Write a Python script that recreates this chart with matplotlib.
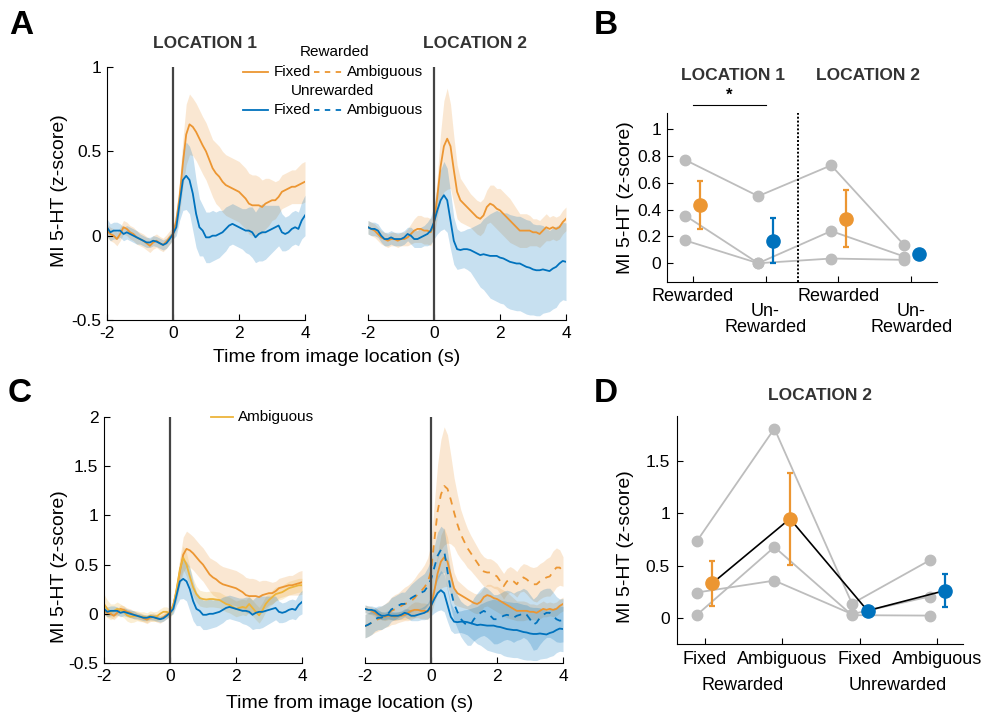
import numpy as np
import matplotlib
matplotlib.use('Agg')
import matplotlib.pyplot as plt
from matplotlib.lines import Line2D

plt.rcParams['font.family'] = ['Liberation Sans', 'DejaVu Sans']

# ---------------- DATA ----------------
t = np.linspace(-2.0, 4.0, 61)
time_ticks = [-2, 0, 2, 4]
a_yticks = [-0.5, 0, 0.5, 1]
a_ylabels = ['-0.5', '0', '0.5', '1']
c_yticks = [-0.5, 0, 0.5, 1, 1.5, 2]
c_ylabels = ['-0.5', '0', '0.5', '1', '1.5', '2']

# Location 1, rewarded fixed
loc1_rew_fix_mean = [0.03, 0.01, 0.00, -0.02, 0.01, 0.05, 0.04, 0.02, 0.01, -0.01,
                     -0.02, -0.03, -0.045, -0.06, -0.04, -0.03, -0.045, -0.055, -0.035, -0.01,
                     0.01, 0.09, 0.23, 0.43, 0.60, 0.66, 0.645, 0.615, 0.575, 0.535,
                     0.50, 0.45, 0.40, 0.37, 0.35, 0.32, 0.30, 0.29, 0.28, 0.27,
                     0.26, 0.24, 0.22, 0.19, 0.18, 0.18, 0.18, 0.17, 0.19, 0.20,
                     0.21, 0.21, 0.23, 0.26, 0.27, 0.28, 0.29, 0.29, 0.30, 0.31,
                     0.32]
loc1_rew_fix_sem = [0.04, 0.04, 0.04, 0.04, 0.04, 0.04, 0.04, 0.04, 0.04, 0.04,
                    0.04, 0.04, 0.04, 0.04, 0.04, 0.04, 0.04, 0.04, 0.04, 0.04,
                    0.04, 0.06, 0.10, 0.14, 0.18, 0.18, 0.17, 0.17, 0.17, 0.17,
                    0.17, 0.17, 0.17, 0.18, 0.18, 0.18, 0.18, 0.18, 0.18, 0.18,
                    0.18, 0.18, 0.18, 0.18, 0.18, 0.18, 0.17, 0.16, 0.15, 0.14,
                    0.12, 0.11, 0.10, 0.10, 0.10, 0.10, 0.10, 0.10, 0.11, 0.12,
                    0.12]
# Location 1, unrewarded fixed
loc1_unr_fix_mean = [0.05, 0.02, 0.03, 0.03, 0.03, 0.01, 0.02, 0.01, 0.00, -0.01,
                     -0.02, -0.03, -0.04, -0.04, -0.03, -0.035, -0.045, -0.055, -0.045, -0.02,
                     0.01, 0.05, 0.19, 0.33, 0.355, 0.33, 0.25, 0.13, 0.05, 0.03,
                     -0.01, -0.01, 0.00, 0.00, 0.01, 0.02, 0.04, 0.06, 0.07, 0.06,
                     0.05, 0.04, 0.03, 0.03, 0.02, -0.01, 0.01, 0.02, 0.02, 0.03,
                     0.04, 0.05, 0.06, 0.02, 0.01, 0.02, 0.04, 0.05, 0.04, 0.09,
                     0.12]
loc1_unr_fix_sem = [0.05, 0.05, 0.05, 0.05, 0.04, 0.04, 0.04, 0.04, 0.04, 0.04,
                    0.03, 0.03, 0.03, 0.03, 0.03, 0.03, 0.03, 0.03, 0.03, 0.03,
                    0.03, 0.05, 0.10, 0.18, 0.20, 0.20, 0.22, 0.20, 0.17, 0.15,
                    0.15, 0.15, 0.15, 0.14, 0.14, 0.13, 0.13, 0.12, 0.12, 0.12,
                    0.12, 0.12, 0.13, 0.14, 0.15, 0.15, 0.16, 0.17, 0.16, 0.15,
                    0.14, 0.13, 0.12, 0.11, 0.10, 0.10, 0.10, 0.10, 0.10, 0.11,
                    0.12]
# Location 1, rewarded ambiguous
loc1_rew_amb_mean = [0.10, 0.05, 0.02, 0.03, 0.05, 0.04, 0.02, -0.015, -0.03, -0.025,
                     -0.02, -0.03, -0.03, -0.04, -0.02, -0.03, -0.025, 0.00, 0.02, 0.02,
                     0.00, 0.08, 0.25, 0.45, 0.57, 0.50, 0.38, 0.27, 0.20, 0.16,
                     0.15, 0.145, 0.15, 0.15, 0.145, 0.14, 0.12, 0.10, 0.09, 0.07,
                     0.05, 0.06, 0.07, 0.06, 0.10, 0.06, 0.02, -0.015, 0.035, 0.10,
                     0.14, 0.17, 0.20, 0.21, 0.22, 0.24, 0.26, 0.27, 0.28, 0.29,
                     0.29]
loc1_rew_amb_sem = [0.10, 0.09, 0.08, 0.07, 0.07, 0.06, 0.06, 0.06, 0.06, 0.06,
                    0.05, 0.05, 0.05, 0.05, 0.05, 0.05, 0.05, 0.05, 0.05, 0.05,
                    0.05, 0.06, 0.08, 0.10, 0.12, 0.12, 0.10, 0.09, 0.08, 0.08,
                    0.08, 0.08, 0.08, 0.08, 0.08, 0.08, 0.08, 0.08, 0.08, 0.08,
                    0.08, 0.08, 0.08, 0.08, 0.08, 0.08, 0.08, 0.08, 0.08, 0.08,
                    0.07, 0.07, 0.07, 0.07, 0.07, 0.07, 0.07, 0.07, 0.07, 0.07,
                    0.07]
# Location 2, rewarded fixed
loc2_rew_fix_mean = [0.05, 0.04, 0.03, 0.01, -0.01, -0.02, -0.03, -0.02, -0.02, -0.03,
                     -0.02, -0.02, -0.01, 0.01, 0.03, 0.04, 0.04, 0.03, 0.03, 0.02,
                     0.07, 0.23, 0.41, 0.53, 0.575, 0.53, 0.39, 0.26, 0.21, 0.19,
                     0.17, 0.15, 0.13, 0.11, 0.10, 0.12, 0.17, 0.19, 0.18, 0.16,
                     0.15, 0.13, 0.11, 0.09, 0.07, 0.05, 0.03, 0.03, 0.03, 0.03,
                     0.02, 0.02, 0.01, 0.03, 0.05, 0.04, 0.05, 0.04, 0.05, 0.08,
                     0.10]
loc2_rew_fix_sem = [0.04, 0.04, 0.04, 0.04, 0.04, 0.04, 0.04, 0.04, 0.04, 0.04,
                    0.04, 0.04, 0.05, 0.06, 0.07, 0.08, 0.08, 0.08, 0.08, 0.08,
                    0.08, 0.12, 0.20, 0.27, 0.30, 0.25, 0.20, 0.16, 0.13, 0.12,
                    0.11, 0.10, 0.10, 0.10, 0.10, 0.10, 0.10, 0.11, 0.12, 0.12,
                    0.13, 0.13, 0.13, 0.13, 0.12, 0.11, 0.10, 0.10, 0.10, 0.09,
                    0.08, 0.08, 0.08, 0.08, 0.08, 0.07, 0.07, 0.07, 0.07, 0.07,
                    0.07]
# Location 2, unrewarded fixed
loc2_unr_fix_mean = [0.05, 0.04, 0.04, 0.03, 0.00, -0.02, -0.02, -0.01, -0.02, -0.02,
                     -0.02, -0.01, 0.01, 0.00, -0.02, -0.02, -0.01, 0.00, 0.01, 0.03,
                     0.08, 0.15, 0.21, 0.24, 0.21, 0.09, -0.03, -0.08, -0.085, -0.08,
                     -0.08, -0.085, -0.095, -0.105, -0.115, -0.11, -0.115, -0.12, -0.12, -0.12,
                     -0.13, -0.135, -0.145, -0.155, -0.16, -0.165, -0.165, -0.175, -0.185, -0.19,
                     -0.20, -0.205, -0.205, -0.20, -0.205, -0.21, -0.195, -0.185, -0.165, -0.15,
                     -0.155]
loc2_unr_fix_sem = [0.04, 0.04, 0.04, 0.04, 0.04, 0.04, 0.04, 0.04, 0.04, 0.04,
                    0.04, 0.04, 0.04, 0.05, 0.05, 0.05, 0.06, 0.06, 0.07, 0.08,
                    0.10, 0.14, 0.18, 0.20, 0.19, 0.17, 0.14, 0.12, 0.11, 0.11,
                    0.12, 0.13, 0.15, 0.17, 0.19, 0.21, 0.23, 0.25, 0.26, 0.27,
                    0.27, 0.27, 0.28, 0.28, 0.28, 0.28, 0.28, 0.28, 0.28, 0.28,
                    0.27, 0.27, 0.27, 0.26, 0.25, 0.24, 0.24, 0.24, 0.23, 0.23,
                    0.23]
# Location 2, rewarded ambiguous
loc2_rew_amb_mean = [-0.125, -0.11, -0.09, -0.07, -0.055, -0.04, -0.02, 0.00, 0.03, 0.045,
                     0.06, 0.08, 0.10, 0.11, 0.13, 0.16, 0.20, 0.23, 0.27, 0.32,
                     0.43, 0.74, 1.04, 1.21, 1.30, 1.27, 1.16, 1.03, 0.91, 0.81,
                     0.74, 0.67, 0.62, 0.57, 0.52, 0.47, 0.43, 0.42, 0.42, 0.40,
                     0.38, 0.33, 0.28, 0.33, 0.35, 0.33, 0.30, 0.35, 0.37, 0.35,
                     0.32, 0.30, 0.30, 0.33, 0.35, 0.37, 0.38, 0.43, 0.47, 0.47,
                     0.43]
loc2_rew_amb_sem = [0.12, 0.12, 0.12, 0.12, 0.12, 0.12, 0.12, 0.13, 0.14, 0.15,
                    0.15, 0.16, 0.17, 0.18, 0.19, 0.20, 0.21, 0.22, 0.23, 0.25,
                    0.28, 0.38, 0.48, 0.56, 0.60, 0.55, 0.45, 0.35, 0.30, 0.25,
                    0.22, 0.20, 0.18, 0.17, 0.16, 0.15, 0.15, 0.14, 0.14, 0.14,
                    0.13, 0.13, 0.13, 0.13, 0.13, 0.13, 0.13, 0.13, 0.14, 0.15,
                    0.16, 0.17, 0.18, 0.18, 0.18, 0.19, 0.20, 0.21, 0.20, 0.18,
                    0.15]
# Location 2, unrewarded ambiguous
loc2_unr_amb_mean = [-0.125, -0.11, -0.09, -0.055, -0.04, -0.04, -0.02, 0.00, 0.045, 0.06,
                     0.08, 0.10, 0.10, 0.13, 0.16, 0.18, 0.20, 0.215, 0.23, 0.28,
                     0.35, 0.47, 0.59, 0.65, 0.64, 0.43, 0.24, 0.10, 0.02, -0.05,
                     -0.09, -0.12, -0.11, -0.055, -0.02, 0.01, 0.03, 0.01, -0.02, -0.055,
                     -0.055, -0.04, -0.02, -0.01, -0.02, -0.04, -0.02, -0.01, 0.01, -0.01,
                     -0.055, -0.11, -0.09, -0.04, -0.01, 0.01, 0.01, -0.02, -0.055, -0.07,
                     -0.065]
loc2_unr_amb_sem = [0.12, 0.12, 0.12, 0.12, 0.12, 0.12, 0.12, 0.12, 0.12, 0.12,
                    0.12, 0.12, 0.12, 0.13, 0.14, 0.15, 0.16, 0.17, 0.18, 0.19,
                    0.20, 0.22, 0.24, 0.24, 0.22, 0.20, 0.18, 0.17, 0.17, 0.18,
                    0.19, 0.20, 0.21, 0.22, 0.23, 0.24, 0.25, 0.25, 0.25, 0.25,
                    0.25, 0.25, 0.25, 0.25, 0.25, 0.25, 0.25, 0.25, 0.25, 0.25,
                    0.25, 0.26, 0.27, 0.27, 0.26, 0.25, 0.25, 0.24, 0.23, 0.22,
                    0.22]

# Panel B: per-animal values and group means
b_positions = [1, 2, 3, 4]
b_labels = ['Rewarded', 'Un-\nRewarded', 'Rewarded', 'Un-\nRewarded']
b_animals = [[0.77, 0.50, 0.73, 0.135],
             [0.355, 0.00, 0.24, 0.05],
             [0.17, 0.00, 0.035, 0.025]]
b_means = [0.435, 0.168, 0.333, 0.067]
b_sem = [0.18, 0.167, 0.21, 0.02]
b_yticks = [0, 0.2, 0.4, 0.6, 0.8, 1]
b_ylabels = ['0', '0.2', '0.4', '0.6', '0.8', '1']

# Panel D: location 2, fixed vs ambiguous
d_positions = [1, 2, 3, 4]
d_labels = ['Fixed', 'Ambiguous', 'Fixed', 'Ambiguous']
d_groups = ['Rewarded', 'Unrewarded']
d_animals = [[0.735, 1.81, 0.14, 0.553],
             [0.246, 0.36, 0.04, 0.208],
             [0.032, 0.68, 0.03, 0.026]]
d_means = [0.335, 0.95, 0.073, 0.265]
d_sem = [0.215, 0.44, 0.02, 0.16]
d_yticks = [0, 0.5, 1, 1.5]
d_ylabels = ['0', '0.5', '1', '1.5']

# ---------------- STYLE ----------------
ORANGE = '#EC9632'
YELLOW = '#EDB43A'
BLUE = '#0072BD'
GRAY = '#BDBDBD'
VLINE = '#444444'
TITLE_C = '#333333'
TICK_FS = 12.5
LABEL_FS = 14
LEG_FS = 11
TITLE_FS = 12.5

W, H = 985, 714
fig = plt.figure(figsize=(W / 100, H / 100), dpi=100)


def ax_at(l, t_, r, b):
    return fig.add_axes([l / W, 1 - b / H, (r - l) / W, (b - t_) / H])


def fx(x):
    return x / W


def fy(y):
    return 1 - y / H


def trace(ax, m, s, color, ls='-'):
    m = np.asarray(m)
    s = np.asarray(s)
    ax.fill_between(t, m - s, m + s, color=color, alpha=0.22, lw=0)
    ax.plot(t, m, color=color, lw=1.3, ls=ls)


def style_time_axis(ax, ylim, yticks, ylabels, show_y):
    ax.set_xlim(-2, 4)
    ax.set_ylim(*ylim)
    ax.set_xticks(time_ticks)
    ax.set_xticklabels([str(v) for v in time_ticks])
    ax.spines['top'].set_visible(False)
    ax.spines['right'].set_visible(False)
    ax.tick_params(direction='in', length=4, width=0.8, labelsize=TICK_FS, pad=4)
    if show_y:
        ax.set_yticks(yticks)
        ax.set_yticklabels(ylabels)
    else:
        ax.spines['left'].set_visible(False)
        ax.set_yticks([])
    ax.axvline(0, color=VLINE, lw=1.6, zorder=5)


def fig_line(x0, x1, y, color, ls='-'):
    fig.add_artist(Line2D([fx(x0), fx(x1)], [fy(y), fy(y)], color=color,
                          lw=1.3, ls=ls, transform=fig.transFigure))


# ---------------- PANEL A ----------------
axA1 = ax_at(107, 67, 305, 320)
trace(axA1, loc1_rew_fix_mean, loc1_rew_fix_sem, ORANGE)
trace(axA1, loc1_unr_fix_mean, loc1_unr_fix_sem, BLUE)
style_time_axis(axA1, (-0.5, 1), a_yticks, a_ylabels, True)

axA2 = ax_at(368, 67, 566, 320)
trace(axA2, loc2_rew_fix_mean, loc2_rew_fix_sem, ORANGE)
trace(axA2, loc2_unr_fix_mean, loc2_unr_fix_sem, BLUE)
style_time_axis(axA2, (-0.5, 1), a_yticks, a_ylabels, False)

fig.text(fx(205), fy(44), 'LOCATION 1', ha='center', va='center', fontsize=TITLE_FS,
         fontweight='bold', color=TITLE_C)
fig.text(fx(475), fy(44), 'LOCATION 2', ha='center', va='center', fontsize=TITLE_FS,
         fontweight='bold', color=TITLE_C)
fig.text(fx(337), fy(357), 'Time from image location (s)', ha='center', va='center',
         fontsize=LABEL_FS)
fig.text(fx(60), fy(191), 'MI 5-HT (z-score)', ha='center', va='center',
         rotation=90, fontsize=LABEL_FS)

# legend (A)
fig.text(fx(335), fy(52), 'Rewarded', ha='center', va='center', fontsize=LEG_FS)
fig_line(243, 268, 72, ORANGE)
fig.text(fx(274), fy(72), 'Fixed', ha='left', va='center', fontsize=LEG_FS)
fig_line(314, 342, 72, ORANGE, ls=(0, (3, 3)))
fig.text(fx(347), fy(72), 'Ambiguous', ha='left', va='center', fontsize=LEG_FS)
fig.text(fx(333), fy(91), 'Unrewarded', ha='center', va='center', fontsize=LEG_FS)
fig_line(243, 268, 110, BLUE)
fig.text(fx(274), fy(110), 'Fixed', ha='left', va='center', fontsize=LEG_FS)
fig_line(314, 342, 110, BLUE, ls=(0, (3, 3)))
fig.text(fx(347), fy(110), 'Ambiguous', ha='left', va='center', fontsize=LEG_FS)

# ---------------- PANEL C ----------------
axC1 = ax_at(104, 417, 302, 663)
trace(axC1, loc1_rew_fix_mean, loc1_rew_fix_sem, ORANGE)
trace(axC1, loc1_rew_amb_mean, loc1_rew_amb_sem, YELLOW)
trace(axC1, loc1_unr_fix_mean, loc1_unr_fix_sem, BLUE)
style_time_axis(axC1, (-0.5, 2), c_yticks, c_ylabels, True)

axC2 = ax_at(365, 417, 563, 663)
trace(axC2, loc2_rew_fix_mean, loc2_rew_fix_sem, ORANGE)
trace(axC2, loc2_rew_amb_mean, loc2_rew_amb_sem, ORANGE, ls=(0, (4, 3.5)))
trace(axC2, loc2_unr_fix_mean, loc2_unr_fix_sem, BLUE)
trace(axC2, loc2_unr_amb_mean, loc2_unr_amb_sem, BLUE, ls=(0, (4, 3.5)))
style_time_axis(axC2, (-0.5, 2), c_yticks, c_ylabels, False)

fig.text(fx(350), fy(703), 'Time from image location (s)', ha='center', va='center',
         fontsize=LABEL_FS)
fig.text(fx(60), fy(567), 'MI 5-HT (z-score)', ha='center', va='center',
         rotation=90, fontsize=LABEL_FS)
fig_line(211, 233, 417, YELLOW)
fig.text(fx(238), fy(417), 'Ambiguous', ha='left', va='center', fontsize=LEG_FS)

# ---------------- PANEL B ----------------
axB = ax_at(667, 113, 937, 282)
for vals in b_animals:
    xs = [p - 0.1 for p in b_positions]
    axB.plot(xs, vals, '-o', color=GRAY, lw=1.3, ms=7.5, mec=GRAY, mfc=GRAY, zorder=2)
b_colors = [ORANGE, BLUE, ORANGE, BLUE]
for p, m, s, c in zip(b_positions, b_means, b_sem, b_colors):
    axB.errorbar(p + 0.1, m, yerr=s, fmt='o', color=c, ms=9.5, elinewidth=1.6,
                 capsize=2.2, capthick=1.6, zorder=4)
axB.axvline(2.44, color='k', ls=(0, (1, 1)), lw=1.4, zorder=3)
axB.set_xlim(0.65, 4.35)
axB.set_ylim(-0.14, 1.12)
axB.set_xticks(b_positions)
# single-line labels as tick labels; two-line labels set lower, as in the original
axB.set_xticklabels([lab if '\n' not in lab else '' for lab in b_labels])
for p, lab in zip(b_positions, b_labels):
    if '\n' in lab:
        axB.text(p, -0.125, lab, transform=axB.get_xaxis_transform(), ha='center',
                 va='top', fontsize=13, linespacing=0.95)
axB.set_yticks(b_yticks)
axB.set_yticklabels(b_ylabels)
axB.spines['top'].set_visible(False)
axB.spines['right'].set_visible(False)
axB.tick_params(direction='in', length=4, width=0.8, labelsize=TICK_FS, pad=4)
axB.tick_params(axis='x', labelsize=13)
axB.plot([1, 2], [1.18, 1.18], color='k', lw=0.8, clip_on=False)
axB.text(1.5, 1.2, '*', ha='center', va='bottom', fontsize=12, fontweight='bold')
fig.text(fx(733), fy(75), 'LOCATION 1', ha='center', va='center', fontsize=TITLE_FS,
         fontweight='bold', color=TITLE_C)
fig.text(fx(868), fy(75), 'LOCATION 2', ha='center', va='center', fontsize=TITLE_FS,
         fontweight='bold', color=TITLE_C)
fig.text(fx(625), fy(198), 'MI 5-HT (z-score)', ha='center', va='center',
         rotation=90, fontsize=LABEL_FS)

# ---------------- PANEL D ----------------
axD = ax_at(677, 416, 963, 644)
for vals in d_animals:
    xs = [p - 0.1 for p in d_positions]
    axD.plot(xs, vals, '-o', color=GRAY, lw=1.3, ms=7.5, mec=GRAY, mfc=GRAY, zorder=2)
d_colors = [ORANGE, ORANGE, BLUE, BLUE]
axD.plot([p + 0.1 for p in d_positions], d_means, color='k', lw=1.2, zorder=3)
for p, m, s, c in zip(d_positions, d_means, d_sem, d_colors):
    axD.errorbar(p + 0.1, m, yerr=s, fmt='o', color=c, ms=9.5, elinewidth=1.6,
                 capsize=2.2, capthick=1.6, zorder=4)
axD.set_xlim(0.645, 4.33)
axD.set_ylim(-0.245, 1.93)
axD.set_xticks(d_positions)
axD.set_xticklabels(d_labels)
axD.set_yticks(d_yticks)
axD.set_yticklabels(d_ylabels)
axD.spines['top'].set_visible(False)
axD.spines['right'].set_visible(False)
axD.tick_params(direction='in', length=4, width=0.8, labelsize=TICK_FS, pad=5)
axD.tick_params(axis='x', labelsize=13)
fig.text(fx(743), fy(685), d_groups[0], ha='center', va='center', fontsize=13)
fig.text(fx(898), fy(685), d_groups[1], ha='center', va='center', fontsize=13)
fig.text(fx(820), fy(396), 'LOCATION 2', ha='center', va='center', fontsize=TITLE_FS,
         fontweight='bold', color=TITLE_C)
fig.text(fx(625), fy(547), 'MI 5-HT (z-score)', ha='center', va='center',
         rotation=90, fontsize=LABEL_FS)

# ---------------- PANEL LETTERS ----------------
for letter, (x, y) in zip('ABCD', [(21, 25), (606, 25), (20, 393), (606, 393)]):
    fig.text(fx(x), fy(y), letter, ha='center', va='center', fontsize=24,
             fontweight='bold')

fig.savefig('out.png', dpi=100)
